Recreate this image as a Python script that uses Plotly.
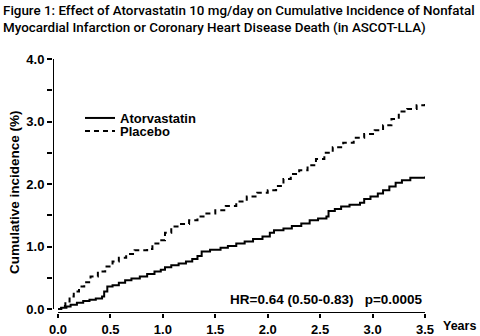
import plotly.graph_objects as go

# Data (years, cumulative incidence %)
atorva_t = [0.00, 0.03, 0.08, 0.12, 0.18, 0.24, 0.30, 0.36, 0.42, 0.44, 0.47, 0.52, 0.58, 0.64,
            0.70, 0.78, 0.85, 0.92, 0.98, 1.02, 1.08, 1.15, 1.22, 1.28, 1.33, 1.37, 1.45, 1.55,
            1.62, 1.70, 1.78, 1.86, 1.95, 2.02, 2.06, 2.15, 2.23, 2.32, 2.40, 2.48, 2.56, 2.58,
            2.64, 2.70, 2.78, 2.88, 2.92, 2.98, 3.05, 3.10, 3.16, 3.22, 3.28, 3.36, 3.50]
atorva_v = [0.00, 0.02, 0.04, 0.07, 0.10, 0.13, 0.15, 0.17, 0.20, 0.28, 0.36, 0.38, 0.42, 0.46,
            0.49, 0.52, 0.56, 0.60, 0.63, 0.67, 0.70, 0.73, 0.76, 0.80, 0.85, 0.92, 0.95, 0.98,
            1.01, 1.05, 1.08, 1.12, 1.16, 1.22, 1.26, 1.29, 1.33, 1.37, 1.42, 1.45, 1.48, 1.57,
            1.60, 1.64, 1.67, 1.70, 1.76, 1.80, 1.85, 1.90, 1.96, 2.02, 2.06, 2.10, 2.12]

placebo_t = [0.00, 0.03, 0.07, 0.11, 0.15, 0.20, 0.25, 0.31, 0.38, 0.45, 0.52, 0.58, 0.65, 0.73,
             0.85, 0.90, 0.97, 1.02, 1.08, 1.15, 1.25, 1.33, 1.40, 1.50, 1.60, 1.70, 1.80, 1.90,
             2.00, 2.08, 2.15, 2.22, 2.30, 2.38, 2.46, 2.54, 2.62, 2.72, 2.82, 2.92, 3.02, 3.10,
             3.18, 3.25, 3.33, 3.42, 3.50]
placebo_v = [0.00, 0.05, 0.12, 0.20, 0.28, 0.36, 0.43, 0.52, 0.60, 0.68, 0.76, 0.82, 0.88, 0.94,
             0.96, 1.05, 1.10, 1.22, 1.32, 1.36, 1.42, 1.48, 1.53, 1.58, 1.65, 1.72, 1.80, 1.86,
             1.90, 1.97, 2.08, 2.16, 2.22, 2.30, 2.40, 2.50, 2.59, 2.66, 2.74, 2.80, 2.86, 2.94,
             3.04, 3.16, 3.20, 3.26, 3.32]

x_ticks = [0.0, 0.5, 1.0, 1.5, 2.0, 2.5, 3.0, 3.5]
x_ticklabels = ["0.0", "0.5", "1.0", "1.5", "2.0", "2.5", "3.0", "3.5"]
y_ticks = [0.0, 0.5, 1.0, 1.5, 2.0, 2.5, 3.0, 3.5, 4.0]
y_ticklabels = ["0.0", "", "1.0", "", "2.0", "", "3.0", "", "4.0"]

title_text = ("Figure 1: Effect of Atorvastatin 10 mg/day on Cumulative Incidence of Nonfatal<br>"
              "Myocardial Infarction or Coronary Heart Disease Death (in ASCOT-LLA)")
stats_text = "HR=0.64 (0.50-0.83)   p=0.0005"
y_title = "Cumulative incidence (%)"

FONT = "Roboto, Liberation Sans, Arial, sans-serif"
FONT2 = "Liberation Sans, Arial, sans-serif"

W, H = 480, 336
L, R, T, B = 53, 55, 59, 23
PW, PH = W - L - R, H - T - B


def px_x(p):
    return (p - L) / PW


def px_y(p):
    return (H - B - p) / PH


fig = go.Figure()
fig.add_trace(go.Scatter(x=atorva_t, y=atorva_v, mode="lines", name="Atorvastatin",
                         legend="legend",
                         line=dict(color="black", width=2, shape="hv")))
fig.add_trace(go.Scatter(x=placebo_t, y=placebo_v, mode="lines", name="Placebo",
                         legend="legend2",
                         line=dict(color="black", width=2, shape="hv", dash="5px,4px")))

xoff = -0.048
yoff = -0.064
# detached axis lines
fig.add_shape(type="line", xref="x", yref="y", x0=0, x1=3.5, y0=yoff, y1=yoff,
              line=dict(color="black", width=2), layer="above")
fig.add_shape(type="line", xref="x", yref="y", x0=xoff, x1=xoff, y0=0, y1=4.0,
              line=dict(color="black", width=2), layer="above")

legfont = dict(family=FONT2, size=13, color="black", weight="bold")
fig.update_layout(
    width=W, height=H,
    margin=dict(l=L, r=R, t=T, b=B, autoexpand=False),
    paper_bgcolor="white", plot_bgcolor="white",
    font=dict(family=FONT2, color="black", size=13),
    showlegend=True,
    legend=dict(x=px_x(80), y=px_y(103), xanchor="left", yanchor="top",
                bgcolor="rgba(0,0,0,0)", itemwidth=30, borderwidth=0, font=legfont),
    legend2=dict(x=px_x(80), y=px_y(116), xanchor="left", yanchor="top",
                 bgcolor="rgba(0,0,0,0)", itemwidth=30, borderwidth=0, font=legfont),
    xaxis=dict(range=[xoff, 3.5], showline=False, showgrid=False, zeroline=False,
               automargin=False,
               tickvals=x_ticks, ticktext=x_ticklabels, ticks="outside", ticklen=4,
               tickwidth=2, tickcolor="black",
               tickfont=dict(family=FONT2, size=13, color="black", weight="bold")),
    yaxis=dict(range=[yoff, 4.0], showline=False, showgrid=False, zeroline=False,
               automargin=False,
               tickvals=y_ticks, ticktext=y_ticklabels, ticks="outside", ticklen=5,
               tickwidth=2, tickcolor="black",
               tickfont=dict(family=FONT2, size=13, color="black", weight="bold")),
)

fig.add_annotation(text=y_title, xref="paper", yref="paper", x=px_x(14), y=px_y(192),
                   xanchor="center", yanchor="middle", textangle=-90, showarrow=False,
                   font=dict(family=FONT2, size=13.5, color="black", weight="bold"))
fig.add_annotation(text=title_text, xref="paper", yref="paper", x=px_x(1), y=px_y(1),
                   xanchor="left", yanchor="top", align="left", showarrow=False,
                   font=dict(family=FONT, size=13.4, color="black", weight=500))
fig.add_annotation(text=stats_text, xref="x", yref="y", x=3.5, y=0.16,
                   xanchor="right", yanchor="middle", showarrow=False,
                   font=dict(family=FONT2, size=13.5, color="black", weight="bold"))
fig.add_annotation(text="Years", xref="x", yref="paper", x=3.5, y=0, xshift=16, yshift=-4,
                   xanchor="left", yanchor="top", showarrow=False,
                   font=dict(family=FONT2, size=12.5, color="black", weight="bold"))

fig.write_html("out.html")
